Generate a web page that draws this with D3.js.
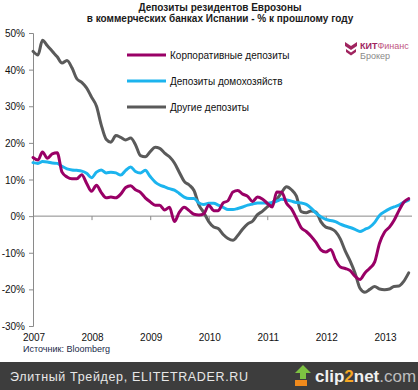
<!DOCTYPE html>
<html><head><meta charset="utf-8">
<script src="https://cdn.jsdelivr.net/npm/d3@7"></script>
<style>
body{margin:0;background:#fff;}
svg text{font-family:"Liberation Sans",Arial,sans-serif;}
</style></head>
<body><svg id="c" width="418" height="390"></svg>
<script>
const titleLines = ["Депозиты резидентов Еврозоны", "в коммерческих банках Испании - % к прошлому году"];
const seriesNames = ["Корпоративные депозиты", "Депозиты домохозяйств", "Другие депозиты"];
const yearLabels = ["2007","2008","2009","2010","2011","2012","2013"];
const yTicks = [-30,-20,-10,0,10,20,30,40,50];
const startYear = 2007, startMonth = 0; // monthly data from Jan 2007

const corporate = [16,15.3,17.5,15.8,17,17.3,12,10.7,10.2,10.2,11.3,9,
  6.8,8.4,6.5,5,5.2,5,6,7.8,8.3,7.2,6.5,5,
  3.9,3,3,1.7,2.4,-1.5,1,2.4,1.5,0.5,0.3,0.6,
  3,1.5,1.5,3.6,4.2,6.6,7,6,5.4,4,5.2,4.7,
  3.5,2.5,6.6,6.5,3.5,2,-0.5,-3.2,-4.2,-5.5,-7.2,-9.2,
  -9.8,-9.1,-11.9,-13.9,-14.3,-14.9,-16.4,-17.3,-15.5,-14.2,-12.5,-7.4,
  -4.4,-3,-1.2,1.5,3.8,4.8];
const households = [14.6,14.4,14.9,14.8,14.5,14.4,13.6,12.9,12.6,12.5,12.3,11.7,
  10.5,12,12.6,11.8,12,11.8,11.2,12.5,13.4,12.2,11.8,12.5,
  10.8,9.3,8.5,8,7.5,7.1,6.2,5.2,4.8,4.8,3.6,3.2,
  3.5,3.5,3,2.4,1.8,1.8,2.1,2.5,3,3.3,3.6,3.6,
  3.5,3.7,4.1,4.6,4.4,4.1,3.7,3.6,3.2,2.2,0.8,-0.2,
  -0.9,-1.2,-1.5,-2.2,-2.7,-3.1,-3.6,-4.2,-3.6,-3,-1.7,0.2,
  1.2,2,2.5,3,3.8,4.4];
const other = [45,44,48,46.5,45,43.5,41.8,42.5,40.5,37.5,36.5,35,
  32.5,30,25,21,20.2,22,21.5,20.8,21.3,19.5,16.5,16.2,
  17.6,18.8,18.5,17.2,16.2,14.5,12,9.5,8.5,7,3,1,
  -1.5,-3,-3.4,-5,-6.1,-6.6,-5.3,-3.5,-2.1,-1.4,0.4,1.3,
  2.5,3.7,4.6,6.5,8,7.2,5.5,1.2,0.9,1.4,1.1,-1.5,
  -3,-3.4,-4.2,-6.3,-9.5,-12.3,-15.5,-19.7,-20.8,-20,-19.2,-19.9,
  -20.1,-19.9,-19.2,-19.1,-17.8,-15.5];
const colors = ["#990066","#1CB4EE","#5A5A5A"];

const svg = d3.select("#c");
const x = d3.scaleTime().domain([new Date(2007,0,1), new Date(2013,0,1)]).range([33, 384.5]);
const y = d3.scaleLinear().domain([-30,50]).range([326,33]);
const dateOf = i => new Date(startYear, startMonth + i, 1);

// title
svg.append("g").selectAll("text").data(titleLines).join("text")
  .attr("x", 220).attr("y", (d,i)=>10.5+i*11.5).attr("text-anchor","middle")
  .attr("font-size", 10).attr("font-weight","bold").attr("fill","#1a1a1a").text(d=>d);

// y axis
const yAxis = d3.axisLeft(y).tickValues(yTicks).tickSize(4).tickFormat(d=>d+"%");
const gy = svg.append("g").attr("transform","translate(33,0)").call(yAxis);
gy.select(".domain").attr("stroke","#8a8a8a");
gy.selectAll(".tick line").attr("stroke","#8a8a8a");
gy.selectAll(".tick text").attr("font-size",10).attr("fill","#111").attr("x",-8).attr("dy","0.35em")
  .attr("font-family","Liberation Sans, Arial, sans-serif");

// x axis at zero
const xAxis = d3.axisBottom(x).ticks(d3.timeYear.every(1)).tickSize(4).tickFormat("");
const gx = svg.append("g").attr("transform",`translate(0,${y(0)})`).call(xAxis);
gx.select(".domain").attr("stroke","#8a8a8a").attr("d",`M33,0H412`);
gx.selectAll(".tick line").attr("stroke","#8a8a8a");
// year labels at bottom
svg.append("g").selectAll("text").data(yearLabels).join("text")
  .attr("x", d=>x(new Date(+d,0,1))+1).attr("y", 341).attr("text-anchor","middle")
  .attr("font-size",10).attr("fill","#111").text(d=>d);

// lines
const line = d3.line().x((d,i)=>x(dateOf(i))).y(d=>y(d)).curve(d3.curveMonotoneX);
const data = [corporate, households, other];
[2,1,0].forEach(k=>{
  svg.append("path").datum(data[k]).attr("d", line).attr("fill","none")
    .attr("stroke", colors[k]).attr("stroke-width",3).attr("stroke-linejoin","round").attr("stroke-linecap","round");
});

// legend
const lg = svg.append("g").selectAll("g").data(seriesNames).join("g")
  .attr("transform",(d,i)=>`translate(127,${55+i*26})`);
lg.append("line").attr("x1",0).attr("x2",39).attr("y1",0).attr("y2",0)
  .attr("stroke",(d,i)=>colors[i]).attr("stroke-width",3);
lg.append("text").attr("x",43).attr("y",3.5).attr("font-size",10).attr("fill","#111").text(d=>d);

// logo
const logo = svg.append("g").attr("transform","translate(345,40)");
logo.append("path").attr("d","M0,2 L6,6 L12,2 L12,6 L6,10 L0,6 Z").attr("fill","#A0245F");
logo.append("path").attr("d","M1,9 L6,12.5 L11,9 L11,12 L6,15.5 L1,12 Z").attr("fill","#A0245F");
logo.append("text").attr("x",15).attr("y",9).attr("font-size",9).attr("font-weight","bold").attr("fill","#A0245F").text("КИТ")
  .append("tspan").attr("font-weight","normal").attr("fill","#C0557F").text("Финанс");
logo.append("text").attr("x",15).attr("y",19).attr("font-size",9).attr("fill","#8a8a8a").text("Брокер");

// source
svg.append("text").attr("x",23).attr("y",352).attr("font-size",9).attr("fill","#1a2a4a").text("Источник: Bloomberg");

// bottom bar
svg.append("rect").attr("x",0).attr("y",362).attr("width",418).attr("height",28).attr("fill","#3d3d3d");
svg.append("text").attr("x",10).attr("y",381).attr("font-size",12.5).attr("fill","#e8e8e8")
  .attr("font-family","DejaVu Sans, sans-serif").attr("letter-spacing",0.65).text("Элитный Трейдер, ELITETRADER.RU");
const cl = svg.append("g").attr("transform","translate(295,365)");
cl.append("path").attr("d","M8,0 L16,8 L11,8 L11,14 L5,14 L5,8 L0,8 Z").attr("fill","#7DC242");
cl.append("rect").attr("x",0).attr("y",15).attr("width",12).attr("height",6).attr("fill","#F08A1C");
const ct = cl.append("text").attr("x",20).attr("y",17).attr("font-size",17).attr("font-weight","bold").attr("fill","#f0f0f0")
  .attr("font-family","Liberation Sans, Arial, sans-serif");
ct.append("tspan").text("clip");
ct.append("tspan").attr("fill","#F5A623").text("2");
ct.append("tspan").text("net");
ct.append("tspan").attr("fill","#bdbdbd").attr("font-weight","normal").text(".com");
</script></body></html>
